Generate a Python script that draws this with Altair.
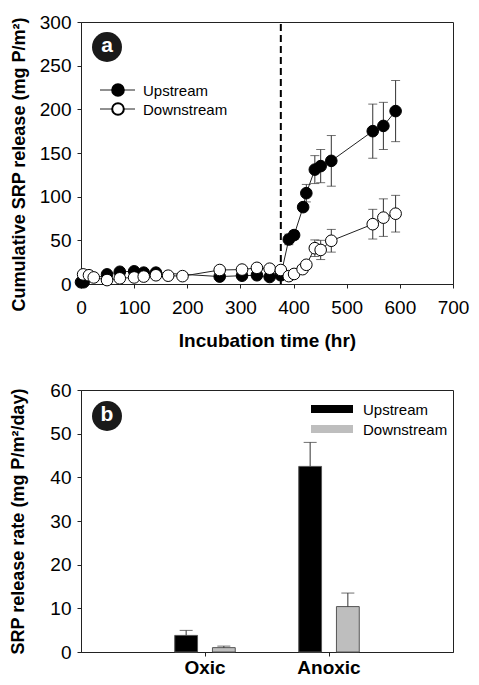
import altair as alt
import pandas as pd

FONT = "Liberation Sans"

# ---------- panel a: cumulative SRP release ----------
up_hr = [0, 5, 49, 73, 100, 118, 141, 261, 303, 331, 355, 376, 391, 401, 418, 424, 440, 451, 471, 549, 569, 592]
up_val = [2, 2, 11, 14, 14.5, 13, 13, 8.5, 9.5, 10, 8, 10, 51, 56, 88, 104, 131, 135, 141, 175, 181, 198]
up_err = [0, 0, 0, 0, 0, 0, 0, 0, 0, 0, 0, 0, 6, 5, 4, 10, 16, 19, 29, 31, 27, 35]

dn_hr = [4, 15, 24, 49, 73, 100, 118, 141, 164, 191, 261, 303, 331, 355, 376, 391, 401, 417, 424, 440, 451, 471, 549, 569, 592]
dn_val = [11, 10, 7.5, 4.5, 6.5, 7.5, 8.5, 10, 9.5, 9, 16, 16.5, 18.5, 17.5, 16, 9, 11.5, 17, 22, 41, 39, 49.5, 68.5, 76, 80.5]
dn_err = [0, 0, 0, 0, 0, 0, 0, 0, 0, 0, 0, 0, 0, 0, 0, 0, 0, 0, 0, 9.5, 11, 13, 17, 21.5, 21]

anoxic_start = [376]
x_ticks_a = [0, 100, 200, 300, 400, 500, 600, 700]
y_ticks_a = [0, 50, 100, 150, 200, 250, 300]

# ---------- panel b: SRP release rate ----------
conds = ["Oxic", "Anoxic"]
series = ["Upstream", "Downstream"]
up_rate = [3.8, 42.5]
up_rate_err = [1.15, 5.5]
dn_rate = [1.0, 10.4]
dn_rate_err = [0.35, 3.1]
y_ticks_b = [0, 10, 20, 30, 40, 50, 60]

W, H = 372, 262


def series_df(hr, val, err):
    df = pd.DataFrame({"hr": hr, "val": val, "err": err})
    df["lo"] = df["val"] - df["err"]
    df["hi"] = df["val"] + df["err"]
    return df


df_up = series_df(up_hr, up_val, up_err)
df_dn = series_df(dn_hr, dn_val, dn_err)
one = pd.DataFrame({"k": [0]})

xs = alt.Scale(domain=[0, 700], nice=False, padding=0)
ys = alt.Scale(domain=[0, 300], nice=False, padding=0)
x_a = alt.X("hr:Q", scale=xs, axis=alt.Axis(values=x_ticks_a, title="Incubation time (hr)",
                                            titleFontSize=19, titlePadding=14, labelPadding=10))
y_a = alt.Y("val:Q", scale=ys, axis=alt.Axis(values=y_ticks_a, title="Cumulative SRP release (mg P/m²)",
                                             titleFontSize=18, titlePadding=11, titleY=142))

ERR_COLOR = "#333333"


def series_layers(df, fill):
    e = df[df["err"] > 0]
    base_e = alt.Chart(e)
    stem = base_e.mark_rule(color=ERR_COLOR, strokeWidth=1).encode(
        x=alt.X("hr:Q", scale=xs), y=alt.Y("lo:Q", scale=ys), y2="hi:Q")
    cap_lo = base_e.mark_tick(orient="horizontal", size=9, thickness=1, color=ERR_COLOR).encode(
        x=alt.X("hr:Q", scale=xs), y=alt.Y("lo:Q", scale=ys))
    cap_hi = base_e.mark_tick(orient="horizontal", size=9, thickness=1, color=ERR_COLOR).encode(
        x=alt.X("hr:Q", scale=xs), y=alt.Y("hi:Q", scale=ys))
    line = alt.Chart(df).mark_line(color="#222222", strokeWidth=1).encode(x=x_a, y=y_a)
    pts = alt.Chart(df).mark_point(filled=True, fill=fill, stroke="black", strokeWidth=1,
                                   size=135, opacity=1).encode(x=x_a, y=y_a)
    return [stem, cap_lo, cap_hi, line, pts]


dash = alt.Chart(pd.DataFrame({"t": anoxic_start})).mark_rule(
    color="black", strokeWidth=2, strokeDash=[7, 4]).encode(
    x=alt.X("t:Q", scale=xs), y=alt.Y("y0:Q", scale=ys), y2="y1:Q"
).transform_calculate(y0="0", y1="300")

# legend a
leg_a = []
for i, (name, fill) in enumerate([("Upstream", "black"), ("Downstream", "white")]):
    yy = 68 + i * 19
    leg_a.append(alt.Chart(one).mark_rule(color="#222222", strokeWidth=1).encode(
        x=alt.value(19), x2=alt.value(54), y=alt.value(yy)))
    leg_a.append(alt.Chart(one).mark_point(filled=True, fill=fill, stroke="black", size=135, opacity=1).encode(
        x=alt.value(37), y=alt.value(yy)))
    leg_a.append(alt.Chart(one).mark_text(align="left", baseline="middle", fontSize=15, font=FONT,
                                          color="black").encode(
        x=alt.value(62), y=alt.value(yy + 1), text=alt.value(name)))

badge_a = [
    alt.Chart(one).mark_point(filled=True, color="#1a1a1a", size=900, opacity=1).encode(
        x=alt.value(26), y=alt.value(25)),
    alt.Chart(one).mark_text(fontSize=21, fontWeight="bold", color="white", font=FONT,
                             baseline="middle").encode(
        x=alt.value(26), y=alt.value(24), text=alt.value("a")),
]

panel_a = alt.layer(
    dash, *series_layers(df_up, "black"), *series_layers(df_dn, "white"), *leg_a, *badge_a
).properties(width=W, height=H)

# ---------- panel b ----------
rows = []
for i, c in enumerate(conds):
    rows.append({"cond": c, "series": "Upstream", "rate": up_rate[i], "hi": up_rate[i] + up_rate_err[i]})
    rows.append({"cond": c, "series": "Downstream", "rate": dn_rate[i], "hi": dn_rate[i] + dn_rate_err[i]})
df_b = pd.DataFrame(rows)

xb = alt.X("cond:N", sort=conds, scale=alt.Scale(paddingInner=0, paddingOuter=0.5),
           axis=alt.Axis(title=None, labelAngle=0, labelFontWeight="bold", labelFontSize=19,
                         labelPadding=2, domain=True))
xo = alt.XOffset("series:N", sort=series, scale=alt.Scale(paddingInner=0.395, paddingOuter=0.842))
ysb = alt.Scale(domain=[0, 60], nice=False, padding=0)
yb = alt.Y("rate:Q", scale=ysb, axis=alt.Axis(values=y_ticks_b, title="SRP release rate (mg P/m²/day)",
                                              titleFontSize=18, titlePadding=22))

bars = alt.Chart(df_b).mark_bar(stroke="#555555", strokeWidth=1).encode(
    x=xb, xOffset=xo, y=yb,
    color=alt.Color("series:N", sort=series, scale=alt.Scale(domain=series, range=["black", "#BEBEBE"]),
                    legend=None))
stem_b = alt.Chart(df_b).mark_rule(color=ERR_COLOR, strokeWidth=1).encode(
    x=xb, xOffset=xo, y=alt.Y("rate:Q", scale=ysb), y2="hi:Q")
cap_b = alt.Chart(df_b).mark_tick(orient="horizontal", size=13, thickness=1, color=ERR_COLOR).encode(
    x=xb, xOffset=xo, y=alt.Y("hi:Q", scale=ysb))

leg_b = []
for i, (name, col) in enumerate([("Upstream", "black"), ("Downstream", "#BEBEBE")]):
    yy = 19 + i * 20
    leg_b.append(alt.Chart(one).mark_rect(color=col).encode(
        x=alt.value(230), x2=alt.value(272), y=alt.value(yy - 4), y2=alt.value(yy + 4)))
    leg_b.append(alt.Chart(one).mark_text(align="left", baseline="middle", fontSize=15, font=FONT,
                                          color="black").encode(
        x=alt.value(282), y=alt.value(yy + 1), text=alt.value(name)))

badge_b = [
    alt.Chart(one).mark_point(filled=True, color="#1a1a1a", size=900, opacity=1).encode(
        x=alt.value(26), y=alt.value(26)),
    alt.Chart(one).mark_text(fontSize=21, fontWeight="bold", color="white", font=FONT,
                             baseline="middle").encode(
        x=alt.value(26), y=alt.value(25), text=alt.value("b")),
]

panel_b = alt.layer(bars, stem_b, cap_b, *leg_b, *badge_b).properties(width=W, height=H)

chart = alt.vconcat(panel_a, panel_b, spacing=29).properties(
    padding={"left": 1, "top": 4, "right": 0, "bottom": -1}
).configure_view(stroke="#222222", strokeWidth=1).configure_axis(
    grid=False, labelFont=FONT, titleFont=FONT, labelFontSize=19, labelColor="black",
    titleColor="black", titleFontWeight="bold", domainColor="#222222", tickColor="#222222",
    tickSize=4, labelPadding=6, domainWidth=1, tickWidth=1, labelFlush=False
).configure_text(font=FONT)

chart.save("out.html", embed_options={"renderer": "svg", "actions": False})
